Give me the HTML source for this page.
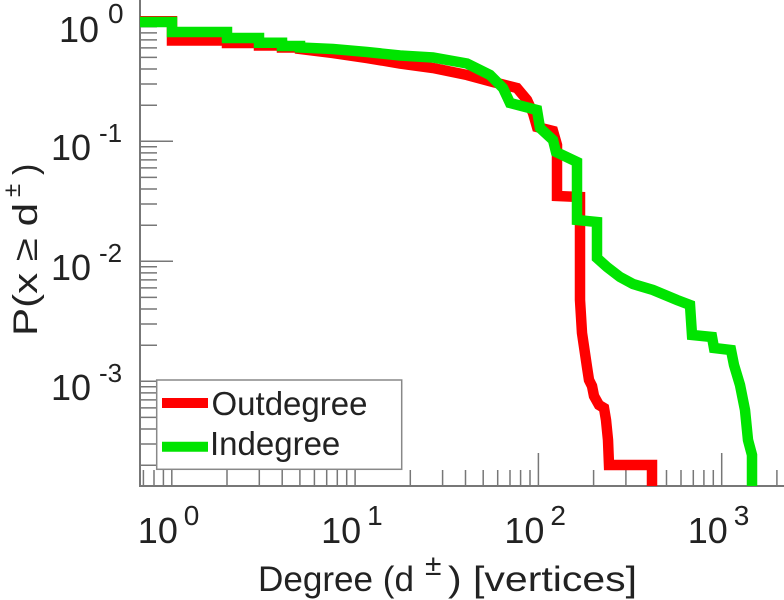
<!DOCTYPE html>
<html>
<head>
<meta charset="utf-8">
<style>
html,body{margin:0;padding:0;background:#fff;}
svg{display:block;}
text{font-family:"Liberation Sans",Arial,sans-serif;fill:#222;}
</style>
</head>
<body>
<svg width="784" height="600" viewBox="0 0 784 600" xmlns="http://www.w3.org/2000/svg">
<defs>
<clipPath id="pa"><rect x="140" y="0" width="644" height="486"/></clipPath>
</defs>
<rect x="0" y="0" width="784" height="600" fill="#fff"/>

<!-- Y ticks -->
<g stroke="#777" stroke-width="1.5">
<line x1="140" y1="21.3" x2="173" y2="21.3"/>
<line x1="140" y1="141.3" x2="173" y2="141.3"/>
<line x1="140" y1="261.3" x2="173" y2="261.3"/>
<line x1="140" y1="381.3" x2="173" y2="381.3"/>
<line x1="140" y1="105.2" x2="157" y2="105.2"/><line x1="140" y1="84.05" x2="157" y2="84.05"/><line x1="140" y1="69.05" x2="157" y2="69.05"/><line x1="140" y1="57.4" x2="157" y2="57.4"/><line x1="140" y1="47.9" x2="157" y2="47.9"/><line x1="140" y1="39.9" x2="157" y2="39.9"/><line x1="140" y1="32.9" x2="157" y2="32.9"/><line x1="140" y1="26.8" x2="157" y2="26.8"/>
<line x1="140" y1="225.2" x2="157" y2="225.2"/><line x1="140" y1="204.05" x2="157" y2="204.05"/><line x1="140" y1="189.05" x2="157" y2="189.05"/><line x1="140" y1="177.4" x2="157" y2="177.4"/><line x1="140" y1="167.9" x2="157" y2="167.9"/><line x1="140" y1="159.9" x2="157" y2="159.9"/><line x1="140" y1="152.9" x2="157" y2="152.9"/><line x1="140" y1="146.8" x2="157" y2="146.8"/>
<line x1="140" y1="345.2" x2="157" y2="345.2"/><line x1="140" y1="324.05" x2="157" y2="324.05"/><line x1="140" y1="309.05" x2="157" y2="309.05"/><line x1="140" y1="297.4" x2="157" y2="297.4"/><line x1="140" y1="287.9" x2="157" y2="287.9"/><line x1="140" y1="279.9" x2="157" y2="279.9"/><line x1="140" y1="272.9" x2="157" y2="272.9"/><line x1="140" y1="266.8" x2="157" y2="266.8"/>
<line x1="140" y1="465.2" x2="157" y2="465.2"/><line x1="140" y1="444.05" x2="157" y2="444.05"/><line x1="140" y1="429.05" x2="157" y2="429.05"/><line x1="140" y1="417.4" x2="157" y2="417.4"/><line x1="140" y1="407.9" x2="157" y2="407.9"/><line x1="140" y1="399.9" x2="157" y2="399.9"/><line x1="140" y1="392.9" x2="157" y2="392.9"/><line x1="140" y1="386.8" x2="157" y2="386.8"/>
</g>

<!-- X ticks -->
<g stroke="#777" stroke-width="1.5">
<line x1="171.8" y1="486" x2="171.8" y2="453"/>
<line x1="355.1" y1="486" x2="355.1" y2="453"/>
<line x1="538.4" y1="486" x2="538.4" y2="453"/>
<line x1="721.7" y1="486" x2="721.7" y2="453"/>
<line x1="143.4" y1="486" x2="143.4" y2="470"/><line x1="154.0" y1="486" x2="154.0" y2="470"/><line x1="163.4" y1="486" x2="163.4" y2="470"/>
<line x1="227.0" y1="486" x2="227.0" y2="470"/><line x1="259.3" y1="486" x2="259.3" y2="470"/><line x1="282.2" y1="486" x2="282.2" y2="470"/><line x1="299.9" y1="486" x2="299.9" y2="470"/><line x1="314.4" y1="486" x2="314.4" y2="470"/><line x1="326.7" y1="486" x2="326.7" y2="470"/><line x1="337.3" y1="486" x2="337.3" y2="470"/><line x1="346.7" y1="486" x2="346.7" y2="470"/>
<line x1="410.3" y1="486" x2="410.3" y2="470"/><line x1="442.6" y1="486" x2="442.6" y2="470"/><line x1="465.5" y1="486" x2="465.5" y2="470"/><line x1="483.2" y1="486" x2="483.2" y2="470"/><line x1="497.7" y1="486" x2="497.7" y2="470"/><line x1="510.0" y1="486" x2="510.0" y2="470"/><line x1="520.6" y1="486" x2="520.6" y2="470"/><line x1="530.0" y1="486" x2="530.0" y2="470"/>
<line x1="593.6" y1="486" x2="593.6" y2="470"/><line x1="625.9" y1="486" x2="625.9" y2="470"/><line x1="648.8" y1="486" x2="648.8" y2="470"/><line x1="666.5" y1="486" x2="666.5" y2="470"/><line x1="681.0" y1="486" x2="681.0" y2="470"/><line x1="693.3" y1="486" x2="693.3" y2="470"/><line x1="703.9" y1="486" x2="703.9" y2="470"/><line x1="713.3" y1="486" x2="713.3" y2="470"/>
<line x1="776.9" y1="486" x2="776.9" y2="470"/>
</g>

<!-- axes -->
<g stroke="#777" stroke-width="2">
<line x1="140" y1="0" x2="140" y2="487"/>
<line x1="139" y1="486" x2="784" y2="486"/>
</g>

<!-- data -->
<g clip-path="url(#pa)" fill="none" stroke-width="10.5" stroke-linejoin="miter" stroke-miterlimit="3" stroke-linecap="butt">
<path stroke="#ff0000" d="M130,21.3 H172 V40.5 H227 V43 H259 V45.5 H282 V47.5 H300 V49 L333,53 L367,58 L400,63.5 L433,68 L467,75 L493,82 L517,88 L527,100 L533,113 L537,127 L553,131 L557,145 L557,196 L580,197 L580,300 L582,333 L587,367 L589,380 L592,386 L594,396 L599,405 L604,408 L606,420 L608,440 L609,465 L652,465 L652,500"/>
<path stroke="#00e400" d="M130,22 H172 V32 H227 V38 H259 V42.8 H282 V46 H300 V47.5 L333,49 L367,52 L400,55.5 L433,57.5 L467,63.5 L490,75 L503,88 L510,103 L537,110 L540,128 L553,140 L556,152 L577,162 L577,220 L597,222 L597,258 L607,267 L620,277 L633,284 L653,290 L677,300 L690,305 L692,335 L712,337 L714,348 L731,350 L734,365 L740,385 L745,410 L748,440 L752,455 L752,500"/>
</g>

<!-- Y tick labels -->
<text x="59" y="42" font-size="36">10</text><text x="108" y="23" font-size="28">0</text>
<text x="51" y="160" font-size="36">10</text><text x="99" y="142" font-size="26">-1</text>
<text x="51" y="280" font-size="36">10</text><text x="99" y="262" font-size="26">-2</text>
<text x="51" y="400" font-size="36">10</text><text x="99" y="382" font-size="26">-3</text>

<!-- X tick labels -->
<text x="137.8" y="543" font-size="36">10</text><text x="183.8" y="525" font-size="28">0</text>
<text x="321.1" y="543" font-size="36">10</text><text x="367.1" y="525" font-size="28">1</text>
<text x="504.4" y="543" font-size="36">10</text><text x="550.4" y="525" font-size="28">2</text>
<text x="687.7" y="543" font-size="36">10</text><text x="733.7" y="525" font-size="28">3</text>

<!-- X label -->
<text x="258" y="591" font-size="35" textLength="156" lengthAdjust="spacingAndGlyphs">Degree (d</text>
<text x="425" y="575" font-size="30">±</text>
<text x="448" y="591" font-size="35" textLength="189" lengthAdjust="spacingAndGlyphs">) [vertices]</text>

<!-- Y label -->
<g transform="translate(37,0) rotate(-90)">
<text x="-336" y="0" font-size="34" textLength="133" lengthAdjust="spacingAndGlyphs">P(x ≥ d</text>
<text x="-197" y="-17" font-size="24">±</text>
<text x="-175" y="0" font-size="34">)</text>
</g>

<!-- Legend -->
<rect x="156.7" y="380" width="245" height="89.3" fill="#fff" stroke="#888" stroke-width="1.5"/>
<line x1="162" y1="403" x2="208" y2="403" stroke="#ff0000" stroke-width="10"/>
<line x1="162" y1="446.7" x2="208" y2="446.7" stroke="#00e400" stroke-width="10"/>
<text x="211.5" y="415" font-size="33">Outdegree</text>
<text x="210" y="455" font-size="33">Indegree</text>
</svg>
</body>
</html>
